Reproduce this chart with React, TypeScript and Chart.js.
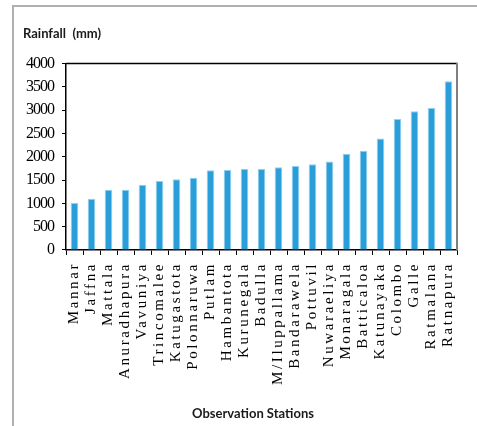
import React, { useEffect, useRef } from 'react';
import { Chart, registerables } from 'chart.js';
Chart.register(...registerables);

const stations = [
  'Mannar', 'Jaffna', 'Mattala', 'Anuradhapura', 'Vavuniya', 'Trincomalee',
  'Katugastota', 'Polonnaruwa', 'Putlam', 'Hambantota', 'Kurunegala', 'Badulla',
  'M/Iluppallama', 'Bandarawela', 'Pottuvil', 'Nuwaraeliya', 'Monaragala',
  'Batticaloa', 'Katunayaka', 'Colombo', 'Galle', 'Ratmalana', 'Ratnapura',
];
const rainfall = [
  1010, 1100, 1290, 1290, 1400, 1480, 1520, 1550, 1710, 1715, 1740, 1740,
  1775, 1800, 1840, 1900, 2065, 2130, 2395, 2810, 2975, 3045, 3620,
];
const yTicks = [0, 500, 1000, 1500, 2000, 2500, 3000, 3500, 4000];
const yTitle = 'Rainfall  (mm)';
const xTitle = 'Observation Stations';

const SERIF = "'Liberation Serif', 'DejaVu Serif', serif";

function spacing(px: string) {
  return {
    beforeCalculateLabelRotation: (s: any) => { s.ctx.letterSpacing = px; s._labelSizes = null; },
    afterFit: (s: any) => { s.ctx.letterSpacing = '0px'; },
    afterUpdate: (s: any) => {
      if (!s._spPatched) {
        const orig = s.drawLabels;
        s.drawLabels = function (area: any) {
          const ctx = this.ctx;
          const prev = ctx.letterSpacing;
          ctx.letterSpacing = px;
          orig.call(this, area);
          ctx.letterSpacing = prev;
        };
        s._spPatched = true;
      }
    },
  };
}

const framePlugin = {
  id: 'frame',
  afterDraw(chart: any) {
    const { ctx, chartArea: a } = chart;
    ctx.save();
    ctx.strokeStyle = '#000';
    ctx.lineWidth = 1.5;
    ctx.beginPath();
    ctx.moveTo(a.left, a.top);
    ctx.lineTo(a.right, a.top);
    ctx.stroke();
    ctx.strokeStyle = '#7f7f7f';
    ctx.lineWidth = 2;
    ctx.beginPath();
    ctx.moveTo(a.right, a.top - 0.75);
    ctx.lineTo(a.right, a.bottom);
    ctx.stroke();
    ctx.restore();
  },
};

export default function App() {
  const ref = useRef<HTMLCanvasElement>(null);
  useEffect(() => {
    if (!ref.current) return;
    const chart = new Chart(ref.current, {
      type: 'bar',
      data: {
        labels: stations,
        datasets: [{
          data: rainfall,
          backgroundColor: '#2A9ED8',
          borderColor: '#93D0EF',
          borderWidth: 1,
          barPercentage: 0.45,
          categoryPercentage: 1,
        }],
      },
      plugins: [framePlugin],
      options: {
        animation: false,
        responsive: true,
        maintainAspectRatio: false,
        layout: { padding: { left: 9, right: 11, top: 0, bottom: 0 } },
        plugins: {
          legend: { display: false },
          tooltip: { enabled: false },
          title: {
            display: true,
            text: yTitle,
            align: 'start',
            color: '#1a1a1a',
            font: { family: 'Lato', size: 13, weight: 'bold' },
            padding: { top: 19, bottom: 22 },
          },
          subtitle: {
            display: true,
            position: 'bottom',
            text: xTitle,
            color: '#1a1a1a',
            font: { family: 'Lato', size: 13, weight: 'bold' },
            padding: { top: 14.5, bottom: 15 },
          },
        },
        scales: {
          x: {
            offset: true,
            grid: { offset: true, drawOnChartArea: false, drawTicks: true, tickLength: 5, color: '#000', lineWidth: 1 },
            border: { color: '#000', width: 1.5 },
            ticks: {
              autoSkip: false,
              minRotation: 90,
              maxRotation: 90,
              padding: 7,
              color: '#000',
              font: { family: SERIF, size: 15 },
            },
            ...spacing('2.6px'),
          },
          y: {
            min: 0,
            max: 4000,
            afterBuildTicks: (s: any) => { s.ticks = yTicks.map((v) => ({ value: v })); },
            grid: { drawOnChartArea: false, drawTicks: true, tickLength: 4, color: '#000', lineWidth: 1 },
            border: { color: '#000', width: 1.5 },
            ticks: {
              padding: 8,
              color: '#000',
              font: { family: SERIF, size: 16 },
              callback: (v: any) => String(v),
            },
            ...spacing('-1px'),
            afterFit: (s: any) => { s.ctx.letterSpacing = '0px'; s.width = 43; },
          },
          y2: {
            position: 'right',
            display: true,
            grid: { display: false, drawTicks: false },
            border: { display: false },
            ticks: { display: false },
            afterFit: (s: any) => { s.width = 26; },
          },
        },
      },
    });
    return () => chart.destroy();
  }, []);
  return (
    <div style={{ position: 'absolute', left: 12, top: 5, width: 520, height: 460, borderTop: '2px solid #b0b0b0', borderLeft: '2px solid #b0b0b0' }}>
      <div style={{ position: 'relative', width: 480, height: 430 }}>
        <canvas ref={ref} />
      </div>
    </div>
  );
}
